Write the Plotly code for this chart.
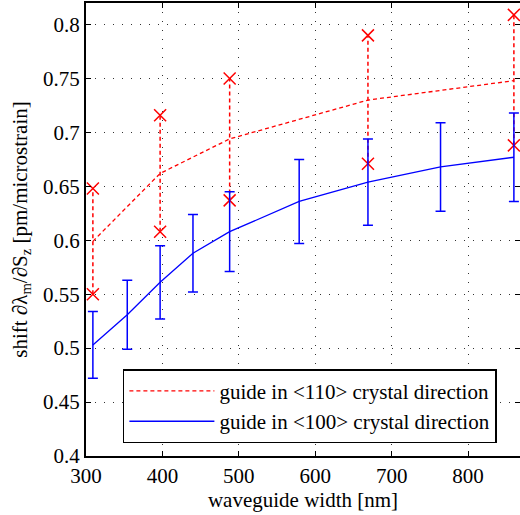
import plotly.graph_objects as go

# Blue series: guide in <100>
x100 = [309, 354, 397, 440, 488, 579, 669, 764, 860]
y100 = [0.503, 0.531, 0.561, 0.588, 0.608, 0.636, 0.654, 0.668, 0.677]
e100 = [0.031, 0.032, 0.034, 0.036, 0.037, 0.039, 0.040, 0.041, 0.041]

# Red series: guide in <110>
x110 = [309, 397, 488, 669, 860]
y110_mean = [0.599, 0.662, 0.694, 0.730, 0.748]
y110_high = [0.648, 0.716, 0.750, 0.790, 0.809]
y110_low = [0.550, 0.608, 0.637, 0.671, 0.688]

xticks = [300, 400, 500, 600, 700, 800]
yticks = [0.4, 0.45, 0.5, 0.55, 0.6, 0.65, 0.7, 0.75, 0.8]

RED = "#ff0000"
BLUE = "#0000ff"
FONT = "Liberation Serif, Times New Roman, serif"

fig = go.Figure()

# vertical dashed connectors between red markers
vx, vy = [], []
for xi, lo, hi in zip(x110, y110_low, y110_high):
    vx += [xi, xi, None]
    vy += [lo, hi, None]
fig.add_trace(go.Scatter(x=vx, y=vy, mode="lines",
                         line=dict(color=RED, width=1.5, dash="4px,3px"),
                         showlegend=False, hoverinfo="skip"))

fig.add_trace(go.Scatter(x=x110, y=y110_mean, mode="lines",
                         name="guide in &lt;110&gt; crystal direction",
                         line=dict(color=RED, width=1.3, dash="4px,3px")))

fig.add_trace(go.Scatter(x=x110 + x110, y=y110_high + y110_low, mode="markers",
                         marker=dict(symbol="x-thin", size=12, color=RED,
                                     line=dict(color=RED, width=1.5)),
                         showlegend=False))

fig.add_trace(go.Scatter(x=x100, y=y100, mode="lines",
                         name="guide in &lt;100&gt; crystal direction",
                         line=dict(color=BLUE, width=1.3),
                         error_y=dict(type="data", array=e100, visible=True,
                                      color=BLUE, thickness=1.5, width=5)))

axis_common = dict(
    showline=True, linecolor="black", linewidth=2, mirror="ticks",
    ticks="inside", ticklen=5, tickcolor="black", tickwidth=1,
    showgrid=True, gridcolor="#333333", gridwidth=1, griddash="1px,8px",
    zeroline=False, automargin=False,
    tickfont=dict(family=FONT, size=21, color="black"),
)

fig.update_xaxes(range=[300, 868], tickvals=xticks,
                 ticktext=[str(v) for v in xticks],
                 title=dict(text="waveguide width [nm]", standoff=4,
                            font=dict(family=FONT, size=21, color="black")),
                 **axis_common)
fig.update_yaxes(range=[0.4, 0.82], tickvals=yticks,
                 ticktext=[f"{v:g}" for v in yticks],
                 title=dict(text="shift ∂λ<sub>m</sub>/∂S<sub>z</sub> [pm/microstrain]",
                            standoff=10,
                            font=dict(family=FONT, size=21, color="black")),
                 **axis_common)

fig.update_layout(
    width=520, height=515,
    margin=dict(l=86, r=0, t=3, b=59, autoexpand=False),
    plot_bgcolor="white", paper_bgcolor="white",
    font=dict(family=FONT, size=21, color="black"),
    legend=dict(x=0.085, y=0.028, xanchor="left", yanchor="bottom",
                bgcolor="white", bordercolor="black", borderwidth=1.5,
                font=dict(family=FONT, size=21, color="black"),
                itemwidth=85, tracegroupgap=0),
    showlegend=True,
)

fig.write_html("out.html",
               config={"displayModeBar": False},
               post_script="document.body.style.margin='0';document.body.style.padding='0';")
